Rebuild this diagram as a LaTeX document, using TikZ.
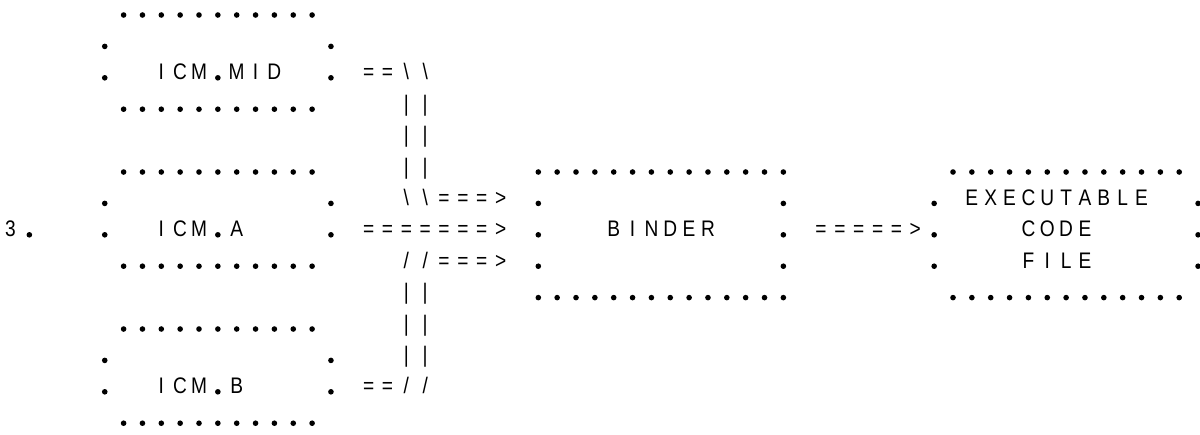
\documentclass[tikz,border=0pt]{standalone}
\usepackage{fontspec}
\setmainfont{Liberation Sans}[FakeStretch=0.85]
\tikzset{
  gch/.style={anchor=base,inner sep=0pt,outer sep=0pt,font=\fontsize{22.5}{22.5}\selectfont,text=black},
  bdot/.style={fill=black}
}
% place a list of characters on consecutive grid columns
\newcommand\gridchars[4]{%
  \foreach \ch [count=\k from 0] in {#4}{%
    \node[gch] (#1-\k) at ({#2+\k},{#3+0.064}) {\ch};
  }}
\newcommand\gdot[2]{\fill[bdot] (#1,#2) circle (2.8pt);}
\newcommand\dotrow[3]{\foreach \c in {#1,...,#2}{\gdot{\c}{#3}}}
\begin{document}
\begin{tikzpicture}[x=18.85pt,y=-31.4pt,shift={(0.557,0.478)}]
\useasboundingbox (-0.557,-0.478) rectangle (63.103,13.344);
% ---- ICM boxes ----
\foreach \t in {0,5,10}{
  \dotrow{6}{16}{\t}
  \dotrow{6}{16}{\t+3}
  \gdot{5}{\t+1}\gdot{5}{\t+2}
  \gdot{17}{\t+1}\gdot{17}{\t+2}
}
\gridchars{mid}{8}{2}{I,C,M}\gdot{11}{2}\gridchars{midb}{12}{2}{M,I,D}
\gridchars{icma}{8}{7}{I,C,M}\gdot{11}{7}\gridchars{icmab}{12}{7}{A}
\gridchars{icmb}{8}{12}{I,C,M}\gdot{11}{12}\gridchars{icmbb}{12}{12}{B}
\gridchars{num}{0}{7}{3}\gdot{1}{7}
% ---- BINDER box ----
\dotrow{28}{41}{5}
\dotrow{28}{41}{9}
\foreach \r in {6,7,8}{\gdot{28}{\r}\gdot{41}{\r}}
\gridchars{binder}{32}{7}{B,I,N,D,E,R}
% ---- EXECUTABLE CODE FILE box ----
\dotrow{50}{62}{5}
\dotrow{50}{62}{9}
\foreach \r in {6,7,8}{\gdot{49}{\r}\gdot{63}{\r}}
\gridchars{exe}{51}{6}{E,X,E,C,U,T,A,B,L,E}
\gridchars{code}{54}{7}{C,O,D,E}
\gridchars{file}{54}{8}{F,I,L,E}
% ---- connectors (printed characters) ----
\gridchars{ca}{19}{2}{=,=,\textbackslash,\textbackslash}
\gridchars{p3}{21}{3}{|,|}
\gridchars{p4}{21}{4}{|,|}
\gridchars{p5}{21}{5}{|,|}
\gridchars{cb}{21}{6}{\textbackslash,\textbackslash,=,=,=,>}
\gridchars{cc}{19}{7}{=,=,=,=,=,=,=,>}
\gridchars{cd}{21}{8}{/,/,=,=,=,>}
\gridchars{p9}{21}{9}{|,|}
\gridchars{p10}{21}{10}{|,|}
\gridchars{p11}{21}{11}{|,|}
\gridchars{ce}{19}{12}{=,=,/,/}
\gridchars{cf}{43}{7}{=,=,=,=,=,>}
\end{tikzpicture}
\end{document}
